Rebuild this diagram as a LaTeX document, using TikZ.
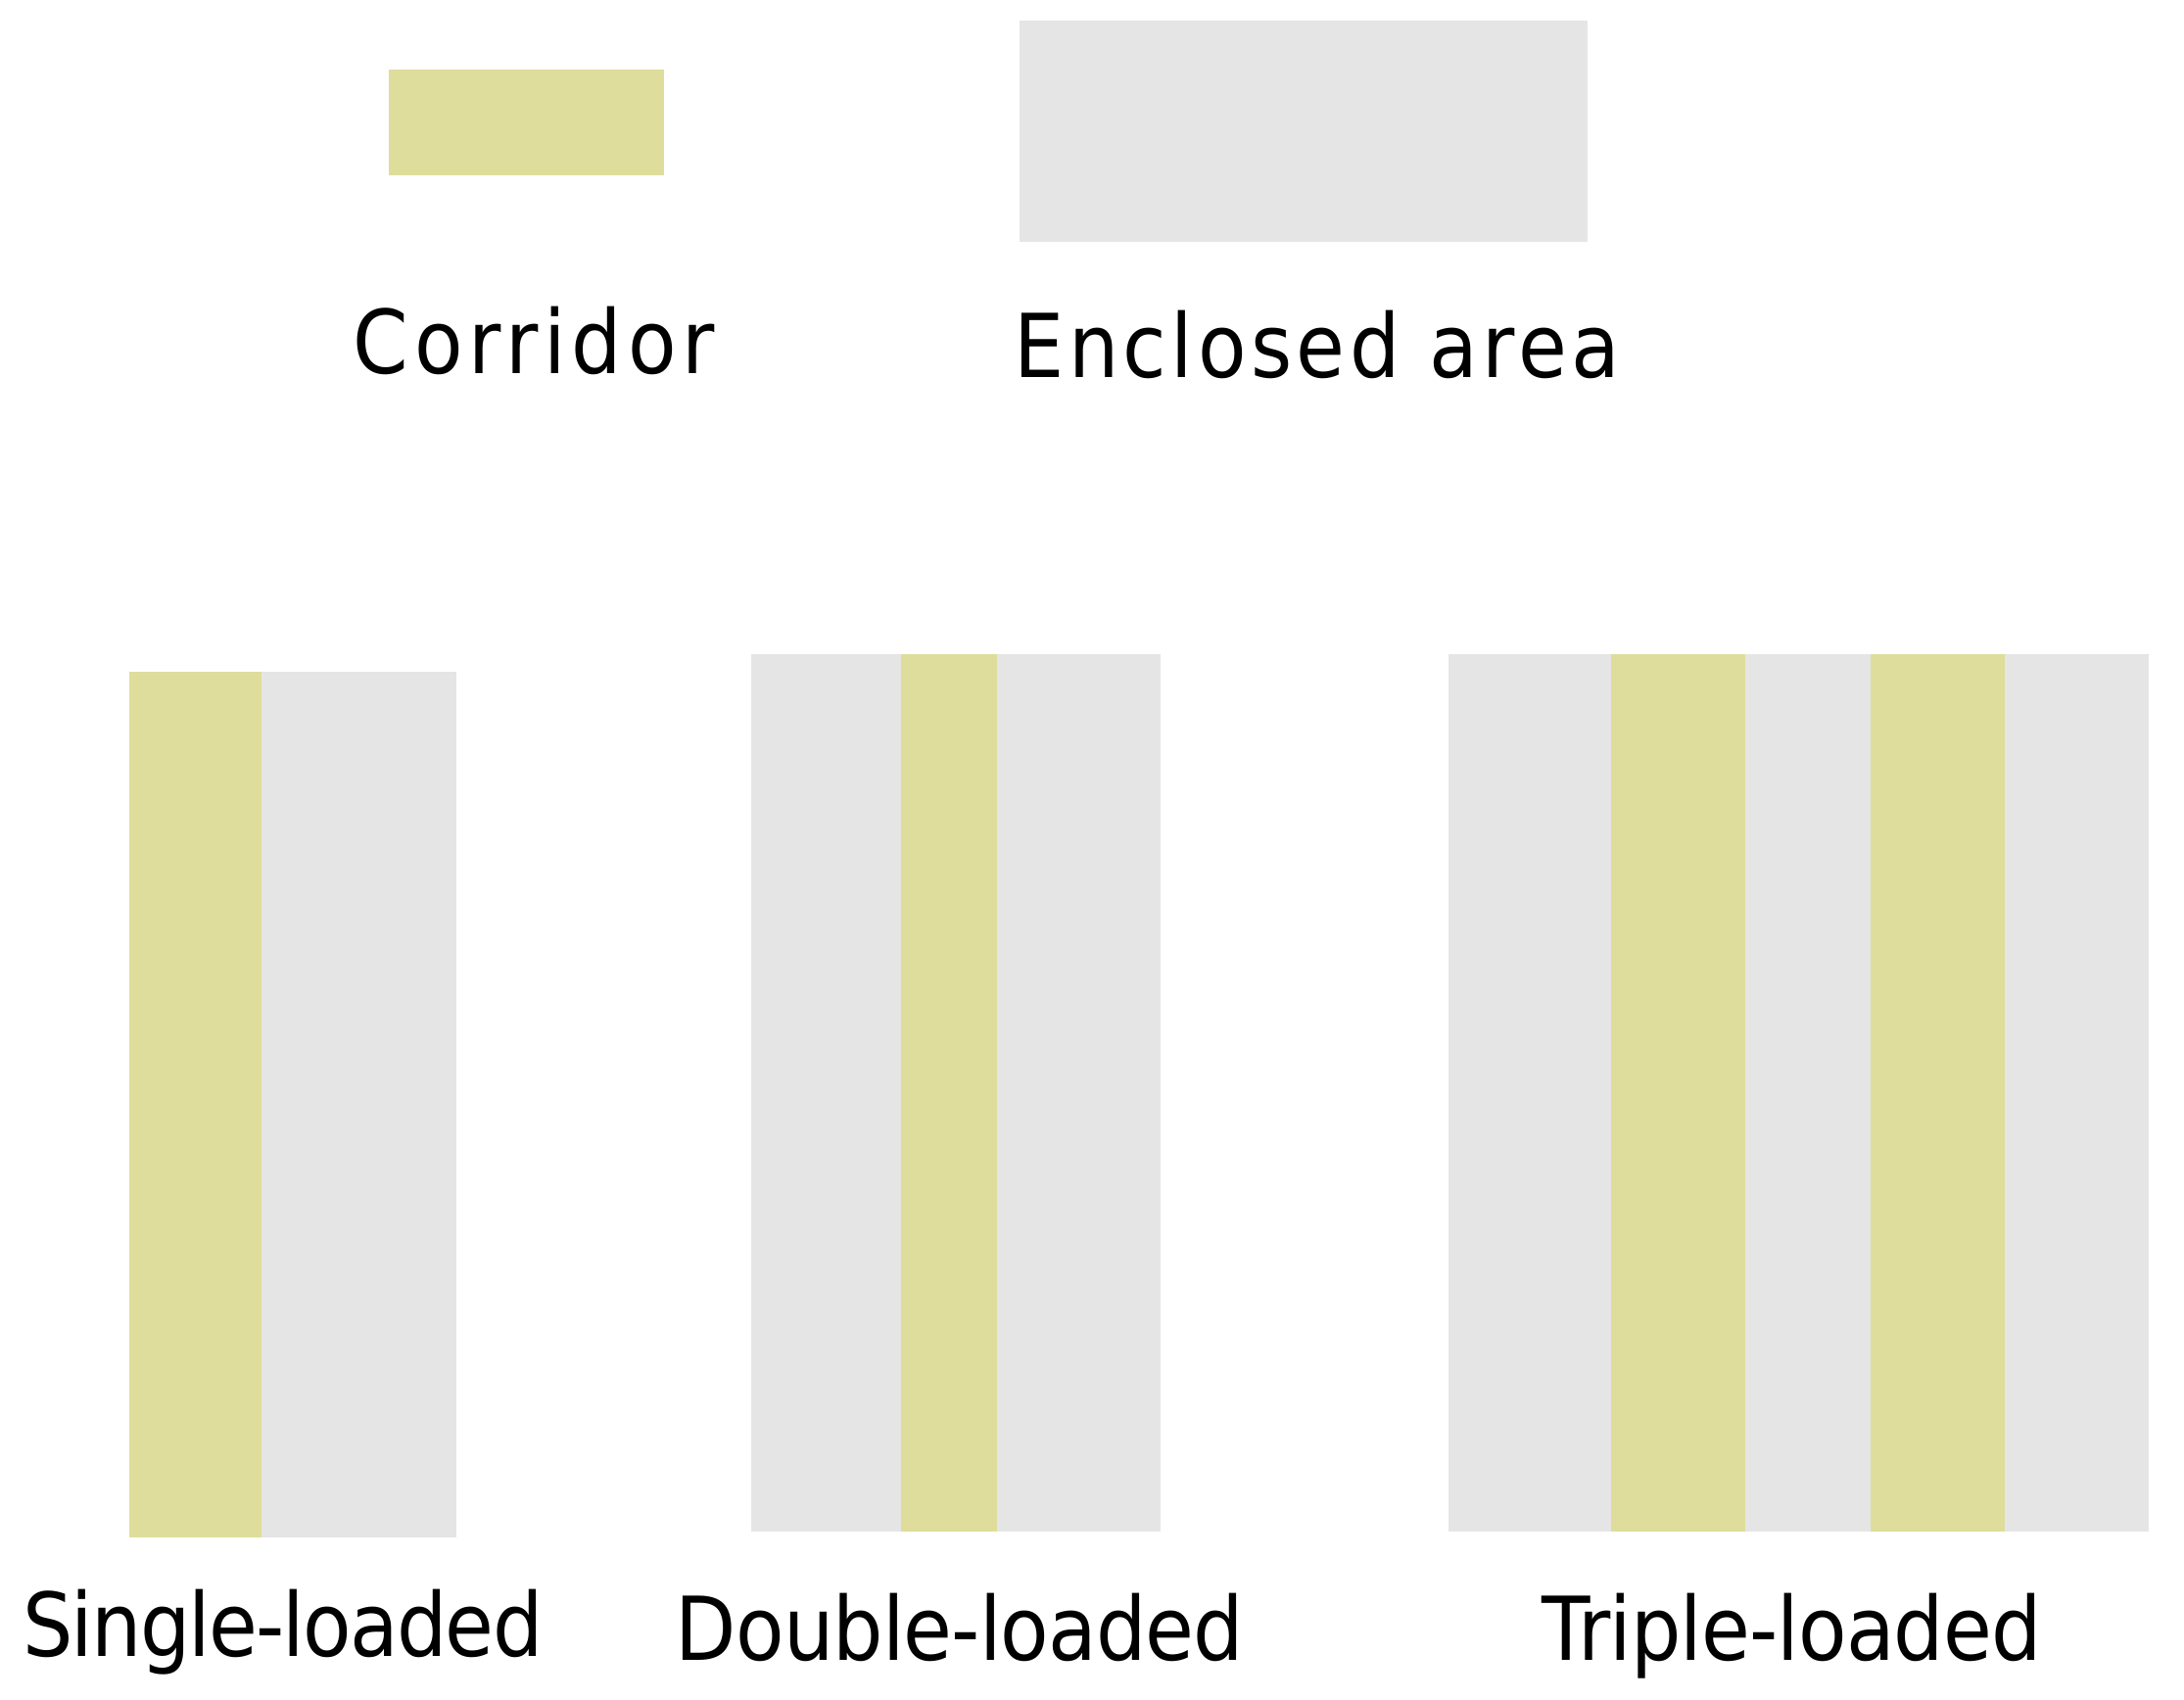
\documentclass[tikz,border=0pt]{standalone}
\usepackage{fontspec}
\setmainfont{DejaVu Sans}[FakeStretch=0.9]
\usetikzlibrary{positioning}

\definecolor{corridorcol}{RGB}{222,221,155}
\definecolor{roomcol}{RGB}{229,229,229}

\begin{document}
\begin{tikzpicture}[
    x=0.01cm, y=-0.01cm, % one unit is one pixel of the layout
    corridor/.style={fill=corridorcol},
    room/.style={fill=roomcol},
    every node/.style={inner sep=0pt, anchor=base},
    label/.style={font={\fontsize{18}{20}\selectfont\addfontfeature{LetterSpace=#1}}}, % tracking per label
    label/.default=0,
  ]
  \useasboundingbox (0,0) rectangle (1568,1220.6);

  % legend
  \fill[corridor] (279,50) rectangle (477,126);
  \fill[room] (732,15) rectangle (1140,174);
  \node[label=6.5] (corr) at (383.5,268) {Corridor};
  \node[label=5] (encl) at (945.5,271) {Enclosed area};

  % single-loaded
  \fill[room] (188,482) rectangle (328,1104);
  \fill[corridor] (93,482) rectangle (188,1104);
  \node[label=-2] (single) at (203,1189) {Single-loaded};

  % double-loaded
  \fill[room] (539,470) rectangle (833,1100);
  \fill[corridor] (647,470) rectangle (716,1100);
  \node[label=-1] (double) at (689,1192) {Double-loaded};

  % triple-loaded
  \fill[room] (1040,470) rectangle (1543,1100);
  \fill[corridor] (1157,470) rectangle (1253,1100);
  \fill[corridor] (1343,470) rectangle (1439,1100);
  \node[label=-1] (triple) at (1286.5,1192) {Triple-loaded};

\end{tikzpicture}
\end{document}
